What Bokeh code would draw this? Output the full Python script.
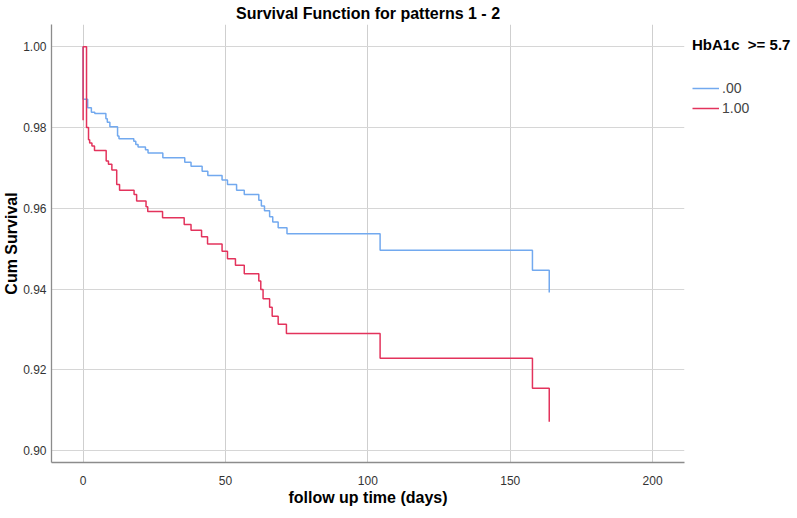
from bokeh.plotting import figure
from bokeh.models import Range1d, FixedTicker, Legend, LegendItem, NumeralTickFormatter
from bokeh.embed import file_html
from bokeh.resources import INLINE

# Kaplan-Meier step points (time in days, cumulative survival after step)
blue_t = [0, 0, 1.6, 2.9, 4.1, 8.0, 8.5, 9.4, 12.1, 12.6, 17.8, 18.5, 19.3, 21.9, 22.8,
          28.0, 35.7, 37.9, 41.8, 43.8, 48.8, 50.7, 53.9, 56.6, 61.7, 62.6, 63.7, 65.5,
          66.6, 68.5, 71.6, 104.3, 157.8, 163.7]
blue_s = [1.0, 0.987, 0.9849, 0.9838, 0.9835, 0.9822, 0.9813, 0.9802, 0.9779, 0.9772,
          0.9766, 0.9758, 0.9752, 0.9745, 0.9737, 0.9725, 0.9714, 0.9704, 0.9692, 0.9681,
          0.9670, 0.9659, 0.9645, 0.9634, 0.9620, 0.9606, 0.9594, 0.9579, 0.9566, 0.9552,
          0.9537, 0.9496, 0.9447, 0.9392]

red_t = [0, 0, 1.2, 1.9, 2.3, 3.1, 4.0, 8.1, 8.9, 10.1, 11.8, 12.8, 17.9, 18.8, 22.1, 22.7,
         27.9, 35.5, 37.9, 41.6, 43.7, 48.8, 50.7, 53.5, 56.6, 61.7, 62.4, 63.2, 65.5, 66.4,
         68.5, 71.4, 104.3, 157.8, 163.7]
red_s = [0.9818, 1.0, 0.9800, 0.9770, 0.9762, 0.9754, 0.9743, 0.9717, 0.9709, 0.9695,
         0.9659, 0.9645, 0.9634, 0.9618, 0.9604, 0.9592, 0.9577, 0.9560, 0.9546, 0.9530,
         0.9512, 0.9494, 0.9475, 0.9459, 0.9438, 0.9420, 0.9399, 0.9376, 0.9355, 0.9333,
         0.9313, 0.9290, 0.9229, 0.9155, 0.9072]

series_labels = [".00", "1.00"]
x_ticks = [0, 50, 100, 150, 200]
y_ticks = [0.90, 0.92, 0.94, 0.96, 0.98, 1.00]

FONT = "Liberation Sans"

p = figure(frame_width=633, frame_height=438, output_backend="svg", toolbar_location=None,
           x_range=Range1d(-11.1, 211.2), y_range=Range1d(0.8971, 1.0055),
           title="Survival Function for patterns 1 - 2",
           min_border_left=46, min_border_top=17, min_border_bottom=47, min_border_right=0)
p.outline_line_color = None
p.background_fill_color = "white"

p.title.align = "center"
p.title.text_font = FONT
p.title.text_font_size = "16px"
p.title.text_font_style = "bold"
p.title.text_color = "#000000"
p.title.standoff = 5
p.title.offset = 0

for ax in (p.xaxis, p.yaxis):
    ax.major_tick_out = 0
    ax.major_tick_in = 0
    ax.minor_tick_out = 0
    ax.minor_tick_in = 0
    ax.axis_line_color = "#8c8c8c"
    ax.axis_line_width = 1.3
    ax.major_label_text_font = FONT
    ax.major_label_text_font_size = "12px"
    ax.major_label_text_color = "#333333"
    ax.axis_label_text_font = FONT
    ax.axis_label_text_font_size = "16px"
    ax.axis_label_text_font_style = "bold"
    ax.axis_label_text_color = "#000000"

p.xaxis.ticker = FixedTicker(ticks=x_ticks)
p.yaxis.ticker = FixedTicker(ticks=y_ticks)
p.yaxis.formatter = NumeralTickFormatter(format="0.00")
p.xaxis.axis_label = "follow up time (days)"
p.yaxis.axis_label = "Cum Survival"
p.xaxis.major_label_standoff = 13
p.yaxis.major_label_standoff = 5
p.xaxis.axis_label_standoff = 1
p.yaxis.axis_label_standoff = 0

p.xgrid.ticker = FixedTicker(ticks=x_ticks)
p.ygrid.ticker = FixedTicker(ticks=y_ticks)
p.xgrid.grid_line_color = "#cfcfcf"
p.ygrid.grid_line_color = "#d6d6d6"
p.xgrid.grid_line_width = 1
p.ygrid.grid_line_width = 1

rb = p.step(blue_t, blue_s, mode="after", line_color="#72a9ef", line_width=1.5)
rr = p.step(red_t, red_s, mode="after", line_color="#e3335c", line_width=1.5)

legend = Legend(items=[LegendItem(label=series_labels[0], renderers=[rb]),
                       LegendItem(label=series_labels[1], renderers=[rr])],
                title="HbA1c  >= 5.7", location=(5, 341))
legend.title_text_font = FONT
legend.title_text_font_size = "15px"
legend.title_text_font_style = "bold"
legend.title_text_color = "#000000"
legend.title_standoff = 25
legend.label_text_font = FONT
legend.label_text_font_size = "14px"
legend.label_text_color = "#444444"
legend.glyph_width = 27
legend.glyph_height = 20
legend.label_height = 20
legend.label_standoff = 3
legend.spacing = 0
legend.padding = 3
legend.margin = 0
legend.border_line_alpha = 0
legend.background_fill_alpha = 0
p.add_layout(legend, "right")

open("out.html", "w").write(file_html(p, INLINE))
